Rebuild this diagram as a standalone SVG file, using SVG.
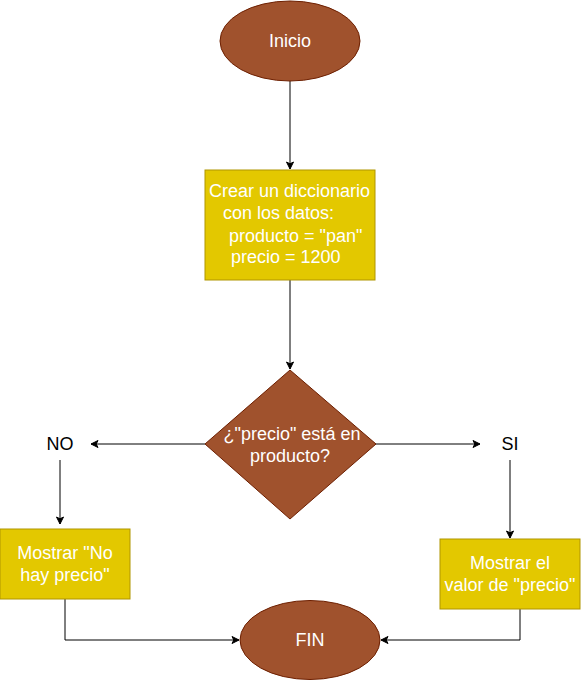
<svg xmlns="http://www.w3.org/2000/svg" width="581" height="680" viewBox="0 0 581 680">
<style>
.t{font-family:"Liberation Sans",Arial,sans-serif;font-size:18px;fill:#ffffff;text-anchor:middle}
.tl{font-family:"Liberation Sans",Arial,sans-serif;font-size:18px;fill:#ffffff}
.lb{font-family:"Liberation Sans",Arial,sans-serif;font-size:18px;fill:#000000;text-anchor:middle}
.brown{fill:#a0522d;stroke:#6d1f00;stroke-width:1}
.yellow{fill:#e3c800;stroke:#b09500;stroke-width:1}
.c{fill:none;stroke:#000000;stroke-width:1;marker-end:url(#ar)}
</style>
<defs>
<marker id="ar" markerWidth="10" markerHeight="10" refX="8" refY="5" orient="auto" markerUnits="userSpaceOnUse">
<path d="M1,1.5 L8,5 L1,8.5 L2.8,5 Z" fill="#000000" stroke="#000000" stroke-width="1"/>
</marker>
</defs>
<rect width="581" height="680" fill="#ffffff"/>
<g id="connectors">
<path class="c" d="M290,81 L290,169"/>
<path class="c" d="M290,280 L290,369"/>
<path class="c" d="M205,444 L91,444"/>
<path class="c" d="M375,444 L480,444"/>
<path class="c" d="M60,460 L60,524"/>
<path class="c" d="M510,460 L510,538"/>
<path class="c" d="M65,599 L65,640 L239,640"/>
<path class="c" d="M520,609 L520,640 L381,640"/>
</g>
<g id="inicio">
<ellipse class="brown" cx="290" cy="41" rx="70" ry="40"/>
<text class="t" x="290" y="47">Inicio</text>
</g>
<g id="crear">
<rect class="yellow" x="205" y="170" width="170" height="110"/>
<text class="tl" x="209" y="197">Crear un diccionario</text>
<text class="tl" x="223" y="219">con los datos:</text>
<text class="tl" x="229" y="242">producto = "pan"</text>
<text class="tl" x="231" y="263">precio = 1200</text>
</g>
<g id="decision">
<polygon class="brown" points="290,370 376,444 290,519 205,444"/>
<text class="t" x="292" y="440">¿"precio" está en</text>
<text class="t" x="290" y="462">producto?</text>
</g>
<g id="no-label">
<text class="lb" x="60" y="450">NO</text>
</g>
<g id="si-label">
<text class="lb" x="510" y="450">SI</text>
</g>
<g id="mostrar-no">
<rect class="yellow" x="0" y="529" width="130" height="70"/>
<text class="t" x="65" y="559">Mostrar "No</text>
<text class="t" x="65" y="581">hay precio"</text>
</g>
<g id="mostrar-si">
<rect class="yellow" x="440" y="539" width="140" height="70"/>
<text class="t" x="510" y="569">Mostrar el</text>
<text class="t" x="510" y="591">valor de "precio"</text>
</g>
<g id="fin">
<ellipse class="brown" cx="310" cy="640" rx="70" ry="39.5"/>
<text class="t" x="310" y="646">FIN</text>
</g>
</svg>
